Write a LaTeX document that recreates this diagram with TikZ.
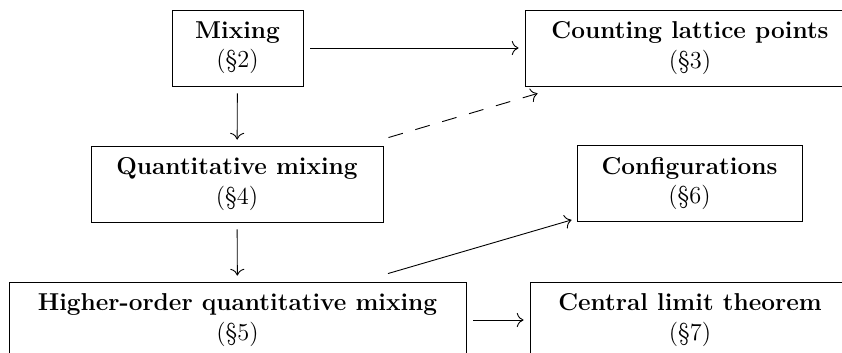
\documentclass[tikz,border=0pt]{standalone}
\usetikzlibrary{calc,arrows.meta}
\begin{document}
\begin{tikzpicture}[x=0.5pt,y=-0.5pt,
  box/.style={draw,line width=0.45pt,align=center,inner sep=0pt,minimum height=38pt,
    font=\fontsize{12.2}{14.6}\selectfont},
  arr/.style={-{To[scale=1.3]},line width=0.45pt,shorten <=3.5pt,shorten >=3pt},
  free/.style={-{To[scale=1.3]},line width=0.45pt}]
\useasboundingbox (0,0) rectangle (842,353);
\node[box,minimum width=65.5pt] (mix) at (237.5,48) {\textbf{Mixing}\\(\S2)};
\node[box,minimum width=165pt] (count) at (690,48) {\textbf{Counting lattice points}\\(\S3)};
\node[box,minimum width=146pt] (quant) at (237,184) {\textbf{Quantitative mixing}\\(\S4)};
\node[box,minimum width=112.5pt] (conf) at (689.5,183.5) {\textbf{Configurations}\\(\S6)};
\node[box,minimum width=228.5pt] (high) at (237.5,320) {\textbf{Higher-order quantitative mixing}\\(\S5)};
\node[box,minimum width=160pt] (clt) at (690,320) {\textbf{Central limit theorem}\\(\S7)};
\draw[arr] (mix) -- (count);
\draw[arr] (mix) -- (quant);
\draw[arr] (quant) -- (high);
\draw[arr] (high) -- (clt);
\draw[free,dash pattern=on 7.5pt off 6.5pt] ($(quant.north east)+(5,-8)$) -- ($(count.south west)+(13,7)$);
\draw[free] ($(high.north)+(150.5,-8)$) -- ($(conf.south west)+(-5,-2)$);
\end{tikzpicture}
\end{document}
